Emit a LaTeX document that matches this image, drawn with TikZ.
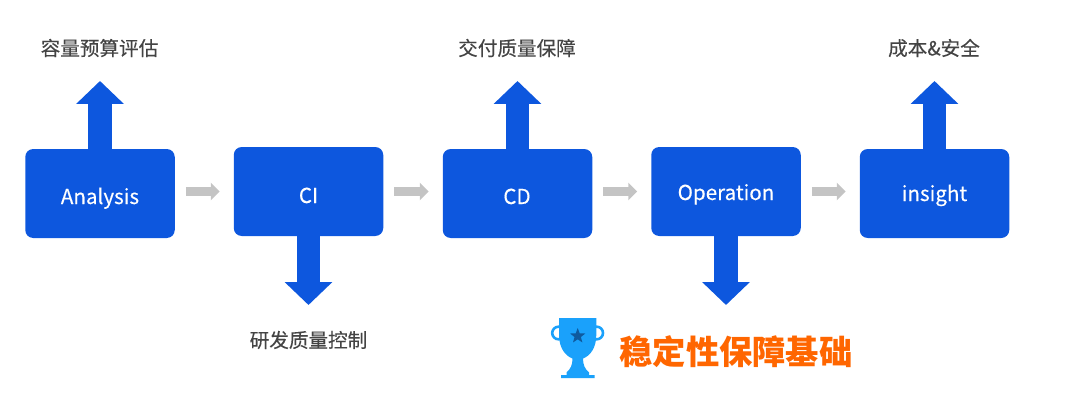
\documentclass[tikz,border=0pt]{standalone}
\usepackage{fontspec}
\setmainfont{Noto Sans CJK SC}
\newfontfamily\labelfont[FakeBold=0.25]{Noto Sans CJK SC}
\usetikzlibrary{arrows.meta,shapes.geometric}
\definecolor{bluebox}{HTML}{0D57DE}
\definecolor{graya}{HTML}{C4C4C4}
\definecolor{labelc}{HTML}{444444}
\definecolor{orangec}{HTML}{FF6600}
\definecolor{cupc}{HTML}{1AA1FB}
\definecolor{starc}{HTML}{0F5A9E}
\tikzset{
  stagebox/.style={fill=bluebox,rounded corners=8pt,minimum width=149.5pt,minimum height=89pt,inner sep=0pt,outer sep=0pt},
  stagetext/.style={text=white,font=\labelfont\fontsize{20.6}{24}\selectfont,inner sep=0pt},
  outtext/.style={text=labelc,font=\labelfont\fontsize{19.6}{23}\selectfont,inner sep=0pt},
  bigarrow/.style={draw=bluebox,line width=23.5pt,-{Triangle[width=46.5pt,length=23pt]}},
  flowarrow/.style={draw=graya,line width=9pt,-{Triangle[width=17pt,length=9pt]},shorten <=11pt,shorten >=14pt},
}
\begin{document}
\begin{tikzpicture}[x=1pt,y=-1pt]
\useasboundingbox (0,0) rectangle (1080,412);
% stages
\node[stagebox] (a) at (100,193.5) {};
\node[stagebox] (ci) at (308.5,191.5) {};
\node[stagebox] (cd) at (517.5,193.5) {};
\node[stagebox] (op) at (726,191.5) {};
\node[stagebox] (in) at (934.5,193.5) {};
\node[stagetext,anchor=base] (ta) at (100,204) {Analysis};
\node[stagetext,anchor=base] (tci) at (308.5,203) {CI};
\node[stagetext,anchor=base] (tcd) at (517,204) {CD};
\node[stagetext,anchor=base] (top) at (726,200) {Operation};
\node[stagetext,anchor=base] (tin) at (934.5,201) {insight};
% labels
\node[outtext] (la) at (99.5,48) {容量预算评估};
\node[outtext] (lci) at (308.5,340) {研发质量控制};
\node[outtext] (lcd) at (517,48) {交付质量保障};
\node[outtext] (lin) at (934,48) {成本\&安全};
\node[text=orangec,font=\fontsize{33.3}{38}\bfseries\selectfont,inner sep=0pt] (base) at (736,352) {稳定性保障基础};
% tips of the outcome arrows
\coordinate (ua) at (100,81);
\coordinate (uci) at (308.5,305);
\coordinate (ucd) at (517.5,81);
\coordinate (uop) at (726,305);
\coordinate (uin) at (934.5,81);
\draw[bigarrow] (a.north) -- (ua);
\draw[bigarrow] (ci.south) -- (uci);
\draw[bigarrow] (cd.north) -- (ucd);
\draw[bigarrow] (op.south) -- (uop);
\draw[bigarrow] (in.north) -- (uin);
% flow arrows
\coordinate (g) at (0,191.5);
\draw[flowarrow] (a.east |- g) -- (ci.west |- g);
\draw[flowarrow] (ci.east |- g) -- (cd.west |- g);
\draw[flowarrow] (cd.east |- g) -- (op.west |- g);
\draw[flowarrow] (op.east |- g) -- (in.west |- g);
% trophy
\draw[cupc,line width=2.6pt] (558.5,333) circle (6.3);
\draw[cupc,line width=2.6pt] (596.7,333) circle (6.3);
\fill[cupc] (559,318) -- (596.3,318) -- (596.3,335)
  .. controls (596.3,348) and (590,356) .. (583,358.5)
  .. controls (583,365) and (585,369) .. (589,372.5)
  -- (589,375) -- (594.5,375) -- (594.5,378) -- (561,378) -- (561,375) -- (566.5,375) -- (566.5,372.5)
  .. controls (570.5,369) and (572.5,365) .. (572.5,358.5)
  .. controls (565.5,356) and (559,348) .. (559,335) -- cycle;
\node[star,star points=5,star point ratio=2.4,fill=starc,minimum size=16pt,inner sep=0pt] (st) at (577.7,336) {};
\end{tikzpicture}
\end{document}
